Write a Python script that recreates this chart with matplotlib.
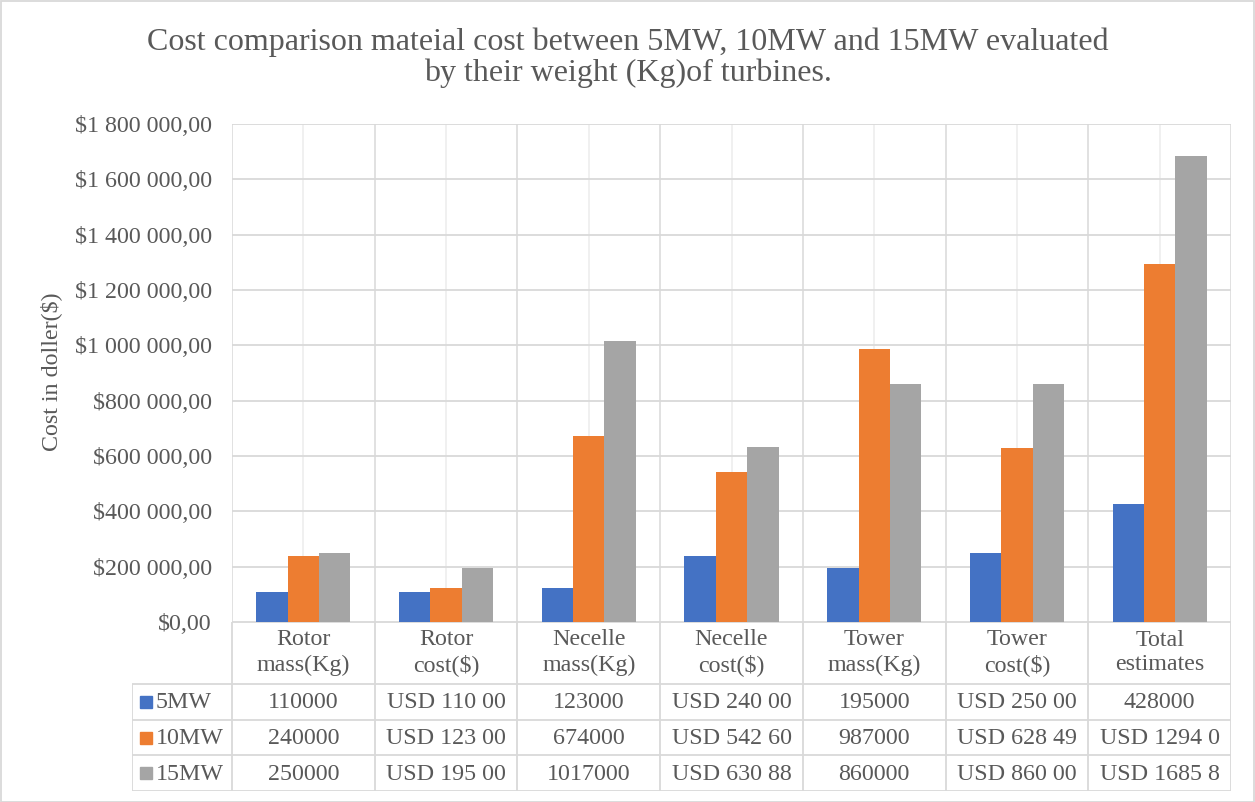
import numpy as np
import matplotlib.pyplot as plt
from matplotlib.ticker import FuncFormatter
from matplotlib.patches import Rectangle

# --- data ---
categories = ["Rotor\nmass(Kg)", "Rotor\ncost($)", "Necelle\nmass(Kg)", "Necelle\ncost($)",
              "Tower\nmass(Kg)", "Tower\ncost($)", "Total\nestimates"]
series_names = ["5MW", "10MW", "15MW"]
mw5 = [110000, 110000, 123000, 240000, 195000, 250000, 428000]
mw10 = [240000, 123000, 674000, 542600, 987000, 628490, 1294000]
mw15 = [250000, 195000, 1017000, 630880, 860000, 860000, 1685800]
# cells shown in the table with the "USD" currency format
usd_cells = [
    [False, True, False, True, False, True, False],
    [False, True, False, True, False, True, True],
    [False, True, False, True, False, True, True],
]
colors = ["#4472C4", "#ED7D31", "#A5A5A5"]

TXT = "#595959"
GRID = "#D9D9D9"
FONT = "Liberation Serif"
FS = 17.3

W, H = 1255, 802
fig = plt.figure(figsize=(W / 100, H / 100), dpi=100)
fig.patch.set_facecolor("white")
plt.rcParams["font.family"] = FONT


def fx(x):
    return x / W


def fy(y):
    return 1 - y / H


# chart border
fig.add_artist(Rectangle((0.5 / W, 0.5 / H), 1 - 1.5 / W, 1 - 1.5 / H, transform=fig.transFigure,
                         fill=False, edgecolor=GRID, lw=1.3))

# --- plot area ---
L, R, T, B = 232, 1231, 124, 622
ax = fig.add_axes([fx(L), fy(B), (R - L) / W, (B - T) / H])
ncat = len(categories)
x = np.arange(ncat)
bw = 0.22
for i, (vals, c) in enumerate(zip([mw5, mw10, mw15], colors)):
    ax.bar(x + (i - 1) * bw, vals, width=bw, color=c, linewidth=0, zorder=3)

ax.set_xlim(-0.5, ncat - 0.5)
ax.set_ylim(0, 1.8e6)
ax.set_yticks(np.arange(0, 1.8e6 + 1, 2e5))
ax.set_xticks(np.arange(-0.5, ncat, 1.0))
ax.set_xticks(x, minor=True)
ax.set_xticklabels([])
ax.grid(axis="y", color=GRID, lw=1.3, zorder=0)
ax.grid(axis="x", which="major", color="#DEDEDE", lw=1.3, zorder=0)
ax.grid(axis="x", which="minor", color="#EFEFEF", lw=1.3, zorder=0)
ax.tick_params(axis="both", which="both", length=0)
ax.tick_params(axis="y", pad=14.5, labelsize=FS, labelcolor=TXT)
ax.yaxis.set_major_formatter(FuncFormatter(
    lambda v, p: "$" + f"{v:,.2f}".replace(",", " ").replace(".", ",")))
for s in ax.spines.values():
    s.set_visible(False)

fig.text(fx(51), fy(372), "Cost in doller($)", rotation=90, ha="center", va="center",
         fontsize=FS, color=TXT)

fig.text(fx(628), fy(58), "Cost comparison mateial cost between 5MW, 10MW and 15MW evaluated\n"
         "by their weight (Kg)of turbines.", ha="center", va="center", multialignment="center",
         fontsize=23, color=TXT, linespacing=1.06)

# --- data table ---
TL, TB = 132, 791
cw = (R - L) / ncat
key_w = (L - TL) / cw
tax = fig.add_axes([fx(TL), fy(TB), (R - TL) / W, (TB - B) / H])
tax.set_xlim(-0.5 - key_w, ncat - 0.5)
tax.set_ylim(TB - B, 0)
tax.axis("off")

row_lines = [62, 98, 133, 169]
lkw = dict(color=GRID, lw=1.3, solid_capstyle="butt")
tax.plot([-0.5, ncat - 0.5], [0, 0], **lkw)
for yl in row_lines:
    tax.plot([-0.5 - key_w, ncat - 0.5], [yl, yl], **lkw)
tax.plot([-0.5 - key_w] * 2, [row_lines[0], row_lines[-1]], **lkw)
for xb in np.arange(-0.5, ncat, 1.0):
    tax.plot([xb, xb], [0, row_lines[-1]], **lkw)

for i, lab in enumerate(categories):
    tax.text(i, 30.5, lab, ha="center", va="center", fontsize=FS, color=TXT, linespacing=1.25)


def cell_text(v, usd):
    if usd:
        return f"USD {v // 1000} {v % 1000:03d}"[:10]
    return str(v)


row_mid = [(row_lines[k] + row_lines[k + 1]) / 2 for k in range(3)]
for r, (name, vals, c) in enumerate(zip(series_names, [mw5, mw10, mw15], colors)):
    ym = row_mid[r]
    tax.plot(-0.5 - key_w + 14 / cw, ym, marker="s", ms=8.5, color=c, ls="none")
    tax.text(-0.5 - key_w + 24 / cw, ym + 1, name, ha="left", va="center", fontsize=FS, color=TXT)
    for i, v in enumerate(vals):
        tax.text(i, ym + 1, cell_text(v, usd_cells[r][i]), ha="center", va="center",
                 fontsize=FS, color=TXT)

fig.savefig("out.png", dpi=100)
